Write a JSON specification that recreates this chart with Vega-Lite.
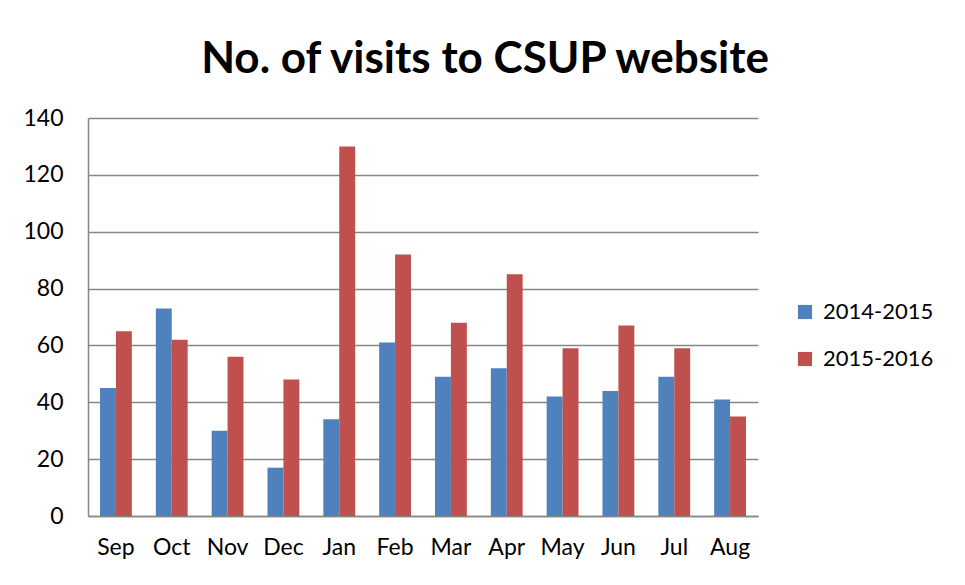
{
  "$schema": "https://vega.github.io/schema/vega-lite/v6.json",
  "autosize": "none",
  "width": 670,
  "height": 398,
  "padding": {"left": 88, "top": 118, "right": 207, "bottom": 69},
  "background": "white",
  "title": {
    "text": "No. of visits to CSUP website",
    "font": "Lato",
    "fontWeight": "bold",
    "fontSize": 44,
    "color": "#000000",
    "anchor": "middle",
    "dx": 62,
    "offset": 25
  },
  "data": {
    "values": [
      {"month": "Sep", "year": "2014-2015", "visits": 45},
      {"month": "Sep", "year": "2015-2016", "visits": 65},
      {"month": "Oct", "year": "2014-2015", "visits": 73},
      {"month": "Oct", "year": "2015-2016", "visits": 62},
      {"month": "Nov", "year": "2014-2015", "visits": 30},
      {"month": "Nov", "year": "2015-2016", "visits": 56},
      {"month": "Dec", "year": "2014-2015", "visits": 17},
      {"month": "Dec", "year": "2015-2016", "visits": 48},
      {"month": "Jan", "year": "2014-2015", "visits": 34},
      {"month": "Jan", "year": "2015-2016", "visits": 130},
      {"month": "Feb", "year": "2014-2015", "visits": 61},
      {"month": "Feb", "year": "2015-2016", "visits": 92},
      {"month": "Mar", "year": "2014-2015", "visits": 49},
      {"month": "Mar", "year": "2015-2016", "visits": 68},
      {"month": "Apr", "year": "2014-2015", "visits": 52},
      {"month": "Apr", "year": "2015-2016", "visits": 85},
      {"month": "May", "year": "2014-2015", "visits": 42},
      {"month": "May", "year": "2015-2016", "visits": 59},
      {"month": "Jun", "year": "2014-2015", "visits": 44},
      {"month": "Jun", "year": "2015-2016", "visits": 67},
      {"month": "Jul", "year": "2014-2015", "visits": 49},
      {"month": "Jul", "year": "2015-2016", "visits": 59},
      {"month": "Aug", "year": "2014-2015", "visits": 41},
      {"month": "Aug", "year": "2015-2016", "visits": 35}
    ]
  },
  "mark": {"type": "bar"},
  "encoding": {
    "x": {
      "field": "month",
      "type": "nominal",
      "sort": ["Sep","Oct","Nov","Dec","Jan","Feb","Mar","Apr","May","Jun","Jul","Aug"],
      "scale": {"paddingInner": 0.43, "paddingOuter": 0.215},
      "axis": {
        "title": null,
        "labelAngle": 0,
        "labelFont": "Lato",
        "labelFontSize": 23,
        "labelColor": "#000000",
        "labelPadding": 20,
        "ticks": false,
        "domainColor": "#868686",
        "domainWidth": 1.5
      }
    },
    "xOffset": {"field": "year", "type": "nominal"},
    "y": {
      "field": "visits",
      "type": "quantitative",
      "scale": {"domain": [0, 140], "nice": false},
      "axis": {
        "title": null,
        "values": [0, 20, 40, 60, 80, 100, 120, 140],
        "labelFont": "Lato",
        "labelFontSize": 23,
        "labelColor": "#000000",
        "labelPadding": 25,
        "ticks": false,
        "domainColor": "#868686",
        "domainWidth": 1.5,
        "gridColor": "#868686",
        "gridWidth": 1.5
      }
    },
    "color": {
      "field": "year",
      "type": "nominal",
      "scale": {"domain": ["2014-2015", "2015-2016"], "range": ["#4F81BD", "#C0504D"]},
      "legend": {
        "title": null,
        "orient": "none",
        "legendX": 706,
        "legendY": 183,
        "symbolType": "square",
        "symbolSize": 200,
        "symbolStrokeWidth": 0,
        "labelFont": "Lato",
        "labelFontSize": 22,
        "labelColor": "#000000",
        "rowPadding": 25,
        "labelOffset": 7
      }
    }
  },
  "config": {"view": {"stroke": null}}
}
